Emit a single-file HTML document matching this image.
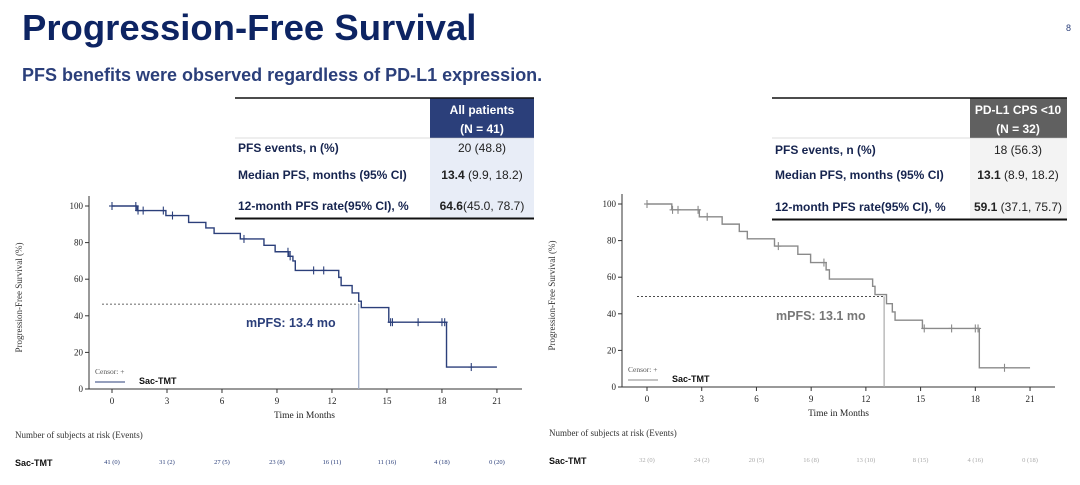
<!DOCTYPE html>
<html><head><meta charset="utf-8"><style>
html,body{margin:0;padding:0;background:#fff;width:1080px;height:485px;overflow:hidden}
svg{display:block}
text{font-family:"Liberation Sans",Arial,sans-serif}
.s{font-family:"Liberation Serif","Times New Roman",serif}
</style></head><body>
<svg id="sv" width="1080" height="485" viewBox="0 0 1080 485" xmlns="http://www.w3.org/2000/svg">
<text x="22" y="40" font-size="36.5" font-weight="bold" fill="#0d2463">Progression-Free Survival</text>
<text x="22" y="81" font-size="18" font-weight="bold" fill="#2b3f7a">PFS benefits were observed regardless of PD-L1 expression.</text>
<text x="1066" y="31" font-size="9" fill="#2b3f7a">8</text>

<!-- left table -->
<rect x="430" y="98" width="104" height="40" fill="#2b3f7a"/>
<rect x="430" y="138" width="104" height="80" fill="#e8edf7"/>
<line x1="235" y1="98" x2="534" y2="98" stroke="#111" stroke-width="1.5"/>
<line x1="235" y1="138" x2="534" y2="138" stroke="#bbb" stroke-width="0.6"/>
<line x1="235" y1="218.5" x2="534" y2="218.5" stroke="#111" stroke-width="2"/>
<text x="482" y="114" font-size="12" font-weight="bold" fill="#fff" text-anchor="middle">All patients</text>
<text x="482" y="133" font-size="12" font-weight="bold" fill="#fff" text-anchor="middle">(N = 41)</text>
<g font-size="12" font-weight="bold" fill="#16244f">
<text x="238" y="152">PFS events, n (%)</text>
<text x="238" y="179">Median PFS, months (95% CI)</text>
<text x="238" y="210">12-month PFS rate(95% CI), %</text></g>
<g font-size="12" fill="#222" text-anchor="middle">
<text x="482" y="152">20 (48.8)</text>
<text x="482" y="179"><tspan font-weight="bold">13.4</tspan> (9.9, 18.2)</text>
<text x="482" y="210"><tspan font-weight="bold">64.6</tspan>(45.0, 78.7)</text></g>

<!-- right table -->
<rect x="970" y="98" width="97" height="40" fill="#606060"/>
<rect x="970" y="138" width="97" height="81" fill="#f3f3f3"/>
<line x1="772" y1="98" x2="1067" y2="98" stroke="#111" stroke-width="1.5"/>
<line x1="772" y1="138" x2="1067" y2="138" stroke="#bbb" stroke-width="0.6"/>
<line x1="772" y1="219.5" x2="1067" y2="219.5" stroke="#111" stroke-width="2"/>
<text x="1018" y="114" font-size="12" font-weight="bold" fill="#fff" text-anchor="middle">PD-L1 CPS &lt;10</text>
<text x="1018" y="133" font-size="12" font-weight="bold" fill="#fff" text-anchor="middle">(N = 32)</text>
<g font-size="12" font-weight="bold" fill="#16244f">
<text x="775" y="154">PFS events, n (%)</text>
<text x="775" y="179">Median PFS, months (95% CI)</text>
<text x="775" y="211">12-month PFS rate(95% CI),  %</text></g>
<g font-size="12" fill="#222" text-anchor="middle">
<text x="1018" y="154">18 (56.3)</text>
<text x="1018" y="179"><tspan font-weight="bold">13.1</tspan> (8.9, 18.2)</text>
<text x="1018" y="211"><tspan font-weight="bold">59.1</tspan> (37.1, 75.7)</text></g>
<g id="charts"></g>
</svg>
<script>
var NS="http://www.w3.org/2000/svg",G=document.getElementById("charts");
function el(t,a,txt){var e=document.createElementNS(NS,t);for(var k in a)e.setAttribute(k,a[k]);if(txt!=null)e.textContent=txt;G.appendChild(e);return e;}
function chart(o){
 var X=function(m){return o.x0+m*o.px},Y=function(p){return o.y0-(o.y0-o.y100)*p/100};
 el("line",{x1:o.ax,y1:Y(100)-10,x2:o.ax,y2:o.y0,stroke:"#333","stroke-width":1});
 el("line",{x1:o.ax,y1:o.y0,x2:o.axEnd,y2:o.y0,stroke:"#333","stroke-width":1});
 for(var p=0;p<=100;p+=20){el("line",{x1:o.ax-4,y1:Y(p),x2:o.ax,y2:Y(p),stroke:"#333"});
  el("text",{x:o.ax-6,y:Y(p)+3,"font-size":9,"text-anchor":"end","class":"s",fill:"#222"},p);}
 for(var m=0;m<=21;m+=3){el("line",{x1:X(m),y1:o.y0,x2:X(m),y2:o.y0+4,stroke:"#333"});
  el("text",{x:X(m),y:o.y0+15,"font-size":9,"text-anchor":"middle","class":"s",fill:"#222"},m);}
 el("text",{x:X(10.5),y:o.y0+29,"font-size":9.5,"text-anchor":"middle","class":"s",fill:"#222"},"Time in Months");
 var cy=(Y(100)+o.y0)/2;
 el("text",{x:0,y:0,"font-size":9,"text-anchor":"middle","class":"s",fill:"#333",transform:"translate("+o.ylx+","+cy+") rotate(-90)"},"Progression-Free Survival (%)");
 el("line",{x1:X(0)-10,y1:Y(o.dash),x2:X(o.med),y2:Y(o.dash),stroke:"#333","stroke-width":0.8,"stroke-dasharray":"2,2"});
 el("line",{x1:X(o.med),y1:Y(o.dash),x2:X(o.med),y2:o.y0,stroke:o.vc,"stroke-width":1.2});
 var d="M"+X(0)+","+Y(100);
 o.steps.forEach(function(s){d+=" H"+X(s[0])+" V"+Y(s[1]);});
 d+=" H"+X(21);
 el("path",{d:d,fill:"none",stroke:o.col,"stroke-width":1.4});
 o.cens.forEach(function(c){var m=c[0],v=c[1];el("line",{x1:X(m),y1:Y(v)-4,x2:X(m),y2:Y(v)+4,stroke:o.col,"stroke-width":1.1});
   el("line",{x1:X(m)-3,y1:Y(v),x2:X(m)+3,y2:Y(v),stroke:o.col,"stroke-width":1.1});});
 el("text",{x:o.mx,y:o.my,"font-size":12.5,"font-weight":"bold",fill:o.mc},o.mt);
 el("text",{x:o.ax+6,y:o.y0-15,"font-size":7.5,"class":"s",fill:"#555"},"Censor: +");
 el("line",{x1:o.ax+6,y1:o.y0-7,x2:o.ax+36,y2:o.y0-7,stroke:o.col,"stroke-width":1});
 el("text",{x:o.ax+50,y:o.y0-5,"font-size":9,"font-weight":"bold",fill:"#111"},"Sac-TMT");
 el("text",{x:o.rx,y:o.y0+49,"font-size":9,"class":"s",fill:"#333"},"Number of subjects at risk (Events)");
 el("text",{x:o.rx,y:o.y0+77,"font-size":9,"font-weight":"bold",fill:"#111"},"Sac-TMT");
 o.risk.forEach(function(r,i){el("text",{x:X(i*3),y:o.y0+75,"font-size":6.5,"text-anchor":"middle","class":"s",fill:o.rc},r);});
}
function cs(arr,steps){return arr.map(function(m){var v=100;steps.forEach(function(s){if(s[0]<=m)v=s[1];});return [m,v];});}
var s1=[[1.36,97.5],[2.94,94.8],[4.18,91],[5.12,88],[5.57,85],[7.0,82],[8.29,78.5],[8.9,75],[9.64,72.5],[9.87,70],[10.0,64.8],[12.37,61],[12.5,56.5],[13.1,52.5],[13.46,48],[13.6,44.5],[15.1,36.5],[18.25,12]];
chart({x0:112,px:18.33,y0:389,y100:206,ax:89,axEnd:522,ylx:22,col:"#2b3f7a",vc:"#9aa8c4",dash:46.4,med:13.46,steps:s1,
 cens:cs([0,1.3,1.42,1.7,2.8,3.3,7.2,9.6,9.72,11.0,11.55,15.2,15.3,16.7,18.0,18.15,19.6],s1),
 mt:"mPFS: 13.4 mo",mx:246,my:327,mc:"#2b3f7a",rx:15,rc:"#2b3f7a",
 risk:["41 (0)","31 (2)","27 (5)","23 (8)","16 (11)","11 (16)","4 (18)","0 (20)"]});
var s2=[[1.36,96.8],[2.87,93],[4.12,89],[5.06,85],[5.5,81],[6.99,77],[8.27,72.5],[8.97,68],[9.82,64],[10.0,59],[12.37,55],[12.5,50.5],[13.13,45.5],[13.45,41],[13.6,36.5],[15.1,32],[18.22,10.5]];
chart({x0:647,px:18.24,y0:387,y100:204,ax:622,axEnd:1055,ylx:555,col:"#8a8a8a",vc:"#aaa",dash:49.5,med:13.0,steps:s2,
 cens:cs([0,1.4,1.7,2.8,3.3,7.2,9.7,15.2,16.7,18.0,18.15,19.6],s2),
 mt:"mPFS: 13.1 mo",mx:776,my:320,mc:"#777",rx:549,rc:"#aaa",
 risk:["32 (0)","24 (2)","20 (5)","16 (8)","13 (10)","8 (15)","4 (16)","0 (18)"]});
</script>
</body></html>
